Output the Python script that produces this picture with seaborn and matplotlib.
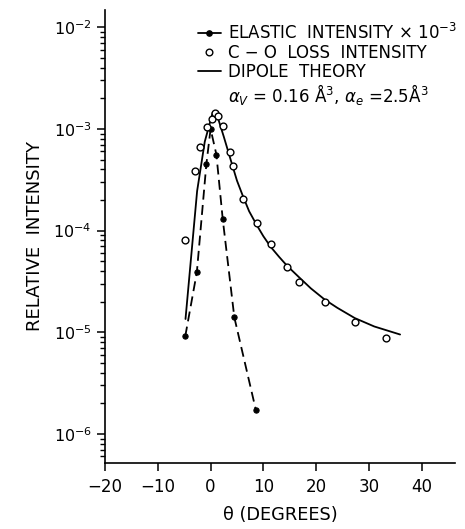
import matplotlib
matplotlib.use("Agg")
import matplotlib.pyplot as plt
import seaborn as sns
import pandas as pd
from matplotlib.lines import Line2D

# elastic intensity (x 10^-3), filled dots + dashed line
elastic_theta = [-4.8, -2.6, -0.8, 0.0, 1.1, 2.3, 4.5, 8.6]
elastic_int = [9.1e-6, 3.9e-5, 4.5e-4, 1.0e-3, 5.6e-4, 1.3e-4, 1.4e-5, 1.7e-6]

# C-O loss intensity, open circles
loss_theta = [-4.9, -2.9, -2.0, -0.6, 0.2, 0.8, 1.4, 2.3, 3.6, 4.2, 6.1, 8.8,
              11.4, 14.5, 16.7, 21.6, 27.3, 33.3]
loss_int = [8.1e-5, 3.9e-4, 6.6e-4, 1.05e-3, 1.25e-3, 1.43e-3, 1.35e-3, 1.08e-3,
            5.9e-4, 4.35e-4, 2.04e-4, 1.18e-4, 7.4e-5, 4.4e-5, 3.1e-5, 2.0e-5,
            1.27e-5, 8.7e-6]

# dipole theory curve
theory_theta = [-4.75, -2.55, -1.1, 0.4, 1.5, 2.5, 4.0, 5.0, 6.1, 7.3, 8.8, 10.0,
                11.4, 13.0, 14.5, 16.7, 19.0, 21.6, 24.0, 27.3, 31.0, 35.9]
theory_int = [1.35e-5, 2.45e-4, 7.5e-4, 1.45e-3, 1.23e-3, 8.4e-4, 4.6e-4, 3.1e-4,
              2.2e-4, 1.55e-4, 1.12e-4, 8.8e-5, 6.9e-5, 5.5e-5, 4.5e-5, 3.5e-5,
              2.7e-5, 2.1e-5, 1.74e-5, 1.38e-5, 1.14e-5, 9.5e-6]

x_ticks = [-20, -10, 0, 10, 20, 30, 40]

elastic = pd.DataFrame({"theta": elastic_theta, "intensity": elastic_int})
loss = pd.DataFrame({"theta": loss_theta, "intensity": loss_int})
theory = pd.DataFrame({"theta": theory_theta, "intensity": theory_int})

sns.set_style("ticks")
plt.rcParams["font.family"] = ["DejaVu Sans"]
for k in ["text.color", "axes.labelcolor", "xtick.color", "ytick.color", "axes.edgecolor"]:
    plt.rcParams[k] = "black"

fig = plt.figure(figsize=(4.65, 5.29), dpi=100)
ax = fig.add_axes([0.2258, 0.1248, 0.7527, 0.8563])

sns.lineplot(data=theory, x="theta", y="intensity", ax=ax, color="black",
             lw=1.3, estimator=None)
sns.lineplot(data=elastic, x="theta", y="intensity", ax=ax, color="black",
             lw=1.3, ls=(0, (5.5, 3)), marker="o", markersize=3.8,
             markeredgecolor="black", estimator=None)
sns.scatterplot(data=loss, x="theta", y="intensity", ax=ax, marker="o", s=24,
                facecolor="white", edgecolor="black", linewidth=1.0, zorder=3)

ax.set_yscale("log")
ax.set_xlim(-20, 46.3)
ax.set_ylim(10 ** -6.286, 10 ** -1.83)
ax.set_xticks(x_ticks)
ax.set_xticklabels([str(t).replace("-", "\u2212") for t in x_ticks])
ax.set_yticks([1e-6, 1e-5, 1e-4, 1e-3, 1e-2])
ax.tick_params(axis="x", which="major", labelsize=12, pad=5)
ax.tick_params(axis="y", which="major", labelsize=11.5)
ax.tick_params(which="major", length=6, width=1.1)
ax.tick_params(which="minor", length=3.5, width=1.0)
for s in ["left", "bottom"]:
    ax.spines[s].set_linewidth(1.2)
sns.despine(ax=ax)

ax.set_xlabel("\u03b8 (DEGREES)", fontsize=12.8, labelpad=7)
ax.set_ylabel("RELATIVE  INTENSITY", fontsize=13, labelpad=7)

handles = [
    Line2D([], [], color="black", lw=1.3, marker="o", markersize=3.8),
    Line2D([], [], ls="none", marker="o", markersize=4.8,
           markerfacecolor="white", markeredgecolor="black", markeredgewidth=1.0),
    Line2D([], [], color="black", lw=1.3),
    Line2D([], [], ls="none"),
]
labels = [
    "ELASTIC  INTENSITY \u00d7 10$^{-3}$",
    "C \u2212 O  LOSS  INTENSITY",
    "DIPOLE  THEORY",
    "$\\alpha_V$ = 0.16 \u00c5$^3$, $\\alpha_e$ =2.5\u00c5$^3$",
]
ax.legend(handles, labels, loc="upper left", bbox_to_anchor=(0.407, 0.972),
          bbox_transform=fig.transFigure, frameon=False, fontsize=12,
          handlelength=1.4, handletextpad=0.4, labelspacing=0.05,
          borderpad=0)

fig.savefig("out.png", dpi=100)
